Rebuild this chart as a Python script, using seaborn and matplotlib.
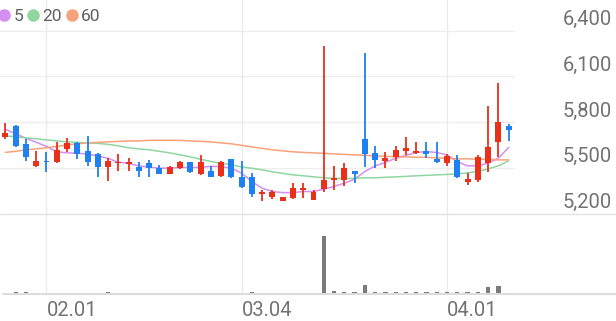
import matplotlib
matplotlib.use("Agg")
import matplotlib.pyplot as plt
import numpy as np
import pandas as pd
import seaborn as sns
from matplotlib.lines import Line2D
from matplotlib.transforms import blended_transform_factory

# ---------------- data ----------------
dates = [
    "2024-01-26", "2024-01-29", "2024-01-30", "2024-01-31",
    "2024-02-01", "2024-02-02", "2024-02-05", "2024-02-06", "2024-02-07", "2024-02-08",
    "2024-02-13", "2024-02-14", "2024-02-15", "2024-02-16",
    "2024-02-19", "2024-02-20", "2024-02-21", "2024-02-22", "2024-02-23",
    "2024-02-26", "2024-02-27", "2024-02-28", "2024-02-29",
    "2024-03-04", "2024-03-05", "2024-03-06", "2024-03-07", "2024-03-08",
    "2024-03-11", "2024-03-12", "2024-03-13", "2024-03-14", "2024-03-15",
    "2024-03-18", "2024-03-19", "2024-03-20", "2024-03-21", "2024-03-22",
    "2024-03-25", "2024-03-26", "2024-03-27", "2024-03-28", "2024-03-29",
    "2024-04-01", "2024-04-02", "2024-04-03", "2024-04-04", "2024-04-05",
    "2024-04-08", "2024-04-09",
]
opens = [5707, 5776, 5657, 5515, 5550, 5537, 5626, 5663, 5615, 5593,
         5507, 5533, 5528, 5510, 5533, 5504, 5463, 5504, 5537, 5461,
         5482, 5450, 5559, 5441, 5441, 5332, 5314, 5286, 5304, 5358,
         5293, 5363, 5424, 5424, 5482, 5693, 5598, 5550, 5572, 5613,
         5602, 5615, 5561, 5533, 5554, 5412, 5424, 5533, 5670, 5778]
highs = [5798, 5783, 5690, 5615, 5608, 5674, 5696, 5674, 5711, 5602,
         5565, 5593, 5569, 5537, 5554, 5522, 5515, 5550, 5539, 5587,
         5515, 5550, 5561, 5548, 5467, 5358, 5354, 5314, 5402, 5402,
         5358, 6301, 5515, 5533, 5482, 6252, 5646, 5605, 5646, 5707,
         5670, 5670, 5670, 5593, 5587, 5467, 5587, 5907, 6059, 5788]
lows = [5692, 5639, 5550, 5508, 5478, 5533, 5608, 5559, 5515, 5445,
        5419, 5484, 5484, 5441, 5441, 5461, 5461, 5493, 5467, 5452,
        5445, 5445, 5435, 5369, 5310, 5286, 5297, 5282, 5297, 5304,
        5293, 5347, 5358, 5380, 5406, 5510, 5500, 5500, 5550, 5587,
        5593, 5569, 5533, 5515, 5435, 5391, 5412, 5478, 5576, 5680]
closes = [5733, 5646, 5576, 5550, 5537, 5620, 5663, 5593, 5543, 5507,
          5550, 5543, 5543, 5484, 5500, 5463, 5510, 5539, 5474, 5543,
          5445, 5543, 5439, 5376, 5330, 5341, 5343, 5310, 5373, 5369,
          5347, 5424, 5435, 5504, 5461, 5593, 5554, 5569, 5620, 5631,
          5613, 5593, 5543, 5580, 5445, 5430, 5576, 5637, 5801, 5750]
volumes = [6000, 9000, 8000, 5000, 4000, 7000, 5000, 6000, 7000, 6000,
           8000, 4000, 3000, 5000, 4000, 3000, 4000, 3000, 4000, 6000,
           3000, 5000, 7000, 6000, 9000, 4000, 3000, 3000, 5000, 3000,
           4000, 900000, 30000, 20000, 18000, 125000, 16000, 14000, 9000, 8000,
           8000, 10000, 9000, 8000, 15000, 8000, 9000, 90000, 115000, 7000]
ma5 = [5754, 5724, 5695, 5669, 5642, 5607, 5600, 5598, 5592, 5580,
       5564, 5538, 5531, 5515, 5507, 5500, 5500, 5504, 5504, 5505,
       5512, 5510, 5500, 5467, 5412, 5369, 5347, 5340, 5340, 5347,
       5347, 5363, 5380, 5402, 5428, 5478, 5515, 5537, 5565, 5584,
       5602, 5609, 5602, 5587, 5543, 5515, 5515, 5533, 5565, 5635]
ma20 = [5711, 5705, 5698, 5692, 5685, 5678, 5672, 5669, 5665, 5662,
        5656, 5646, 5633, 5626, 5620, 5610, 5600, 5587, 5574, 5558,
        5544, 5531, 5522, 5508, 5499, 5489, 5476, 5466, 5456, 5450,
        5443, 5437, 5433, 5433, 5433, 5437, 5437, 5440, 5443, 5446,
        5450, 5453, 5456, 5459, 5463, 5469, 5479, 5495, 5515, 5548]
ma60 = [5603, 5610, 5620, 5626, 5633, 5642, 5652, 5659, 5665, 5669,
        5672, 5675, 5678, 5678, 5682, 5682, 5682, 5682, 5678, 5675,
        5672, 5665, 5659, 5649, 5639, 5629, 5620, 5613, 5607, 5603,
        5600, 5597, 5593, 5590, 5587, 5584, 5580, 5577, 5574, 5574,
        5571, 5571, 5567, 5564, 5561, 5561, 5558, 5558, 5554, 5554]
ma_names = ["5", "20", "60"]
price_ticks = [5200, 5500, 5800, 6100, 6400]
price_tick_labels = ["5,200", "5,500", "5,800", "6,100", "6,400"]
date_ticks = ["2024-02-01", "2024-03-04", "2024-04-01"]
date_tick_labels = ["02.01", "03.04", "04.01"]

# ---------------- style ----------------
UP = "#e8301a"
DOWN = "#1f80f0"
MA_COLORS = {"5": "#d48ff0", "20": "#8fd6a0", "60": "#f8a27c"}
TXT = "#727272"
GRID = "#eeeeee"

sns.set_style("white")
plt.rcParams["font.family"] = ["Roboto", "DejaVu Sans"]

W, H = 616, 321
fig = plt.figure(figsize=(W / 100, H / 100), dpi=100)

plot_right = 515
ax = fig.add_axes([0, (H - 214) / H, plot_right / W, 214 / H])
axv = fig.add_axes([0, (H - 293) / H, plot_right / W, 79 / H])

n = len(dates)
idx = np.arange(n)
o = np.array(opens); c = np.array(closes)
h = np.array(highs); l = np.array(lows)
up = c >= o
cols = np.where(up, UP, DOWN)

# grid
for v in price_ticks[1:]:
    ax.axhline(v, color=GRID, lw=1, zorder=0)
tick_pos = [dates.index(d) for d in date_ticks]
for p in tick_pos:
    ax.axvline(p, color="#ebebeb", lw=1, zorder=0)
    axv.axvline(p, color="#ebebeb", lw=1, zorder=0)

# moving averages
df_ma = pd.DataFrame({"idx": np.tile(idx, 3),
                      "value": ma5 + ma20 + ma60,
                      "ma": np.repeat(ma_names, n)})
sns.lineplot(data=df_ma, x="idx", y="value", hue="ma", palette=MA_COLORS,
             ax=ax, legend=False, lw=1.1, zorder=2)

# candles
ax.vlines(idx, l, h, colors=cols, lw=1.3, zorder=3)
body_bottom = np.minimum(o, c)
body_h = np.maximum(np.abs(c - o), 9)
ax.bar(idx, body_h, bottom=body_bottom, width=0.58, color=cols, lw=0, zorder=4)

ax.set_xlim(-0.526, 49.62)
ax.set_ylim(5200, 6600)
ax.set_axis_off()

# price labels (right side)
tr = blended_transform_factory(ax.transAxes, ax.transData)
for v, lab in zip(price_ticks, price_tick_labels):
    ax.text(612 / plot_right, v + 38, lab, transform=tr, ha="right", va="baseline",
            fontsize=14.5, color=TXT, clip_on=False)

# legend
handles = [Line2D([0], [0], marker="o", linestyle="", markersize=8,
                  markerfacecolor=MA_COLORS[k], markeredgecolor=MA_COLORS[k])
           for k in ma_names]
ax.legend(handles, ma_names, loc="upper left", bbox_to_anchor=(-0.004, 0.957),
          ncol=3, frameon=False, handletextpad=0.15, columnspacing=0.2,
          handlelength=0.75, fontsize=12.5, labelcolor="#606060",
          borderaxespad=0, borderpad=0)

# volume
vol_df = pd.DataFrame({"idx": idx, "volume": volumes})
sns.barplot(data=vol_df, x="idx", y="volume", ax=axv, color="#7b7b7b",
            width=0.42, saturation=1, zorder=3, linewidth=0)
axv.set_xlim(-0.526, 49.62)
axv.set_ylim(0, max(volumes) * 79 / 57)
for s in axv.spines.values():
    s.set_visible(False)
axv.set_yticks([])
axv.set_ylabel("")
axv.set_xlabel("")
axv.set_xticks(tick_pos)
axv.set_xticklabels(date_tick_labels, fontsize=14.5, color=TXT, ha="left")
axv.tick_params(axis="x", length=0, pad=6)

# separator and baseline
fig.add_artist(Line2D([0, 1], [(H - 214) / H] * 2, color="#e2e2e2", lw=1))
fig.add_artist(Line2D([3 / W, 1], [(H - 293.5) / H] * 2, color="#dcdcdc", lw=1.5, zorder=0))

fig.savefig("out.png", dpi=100)
